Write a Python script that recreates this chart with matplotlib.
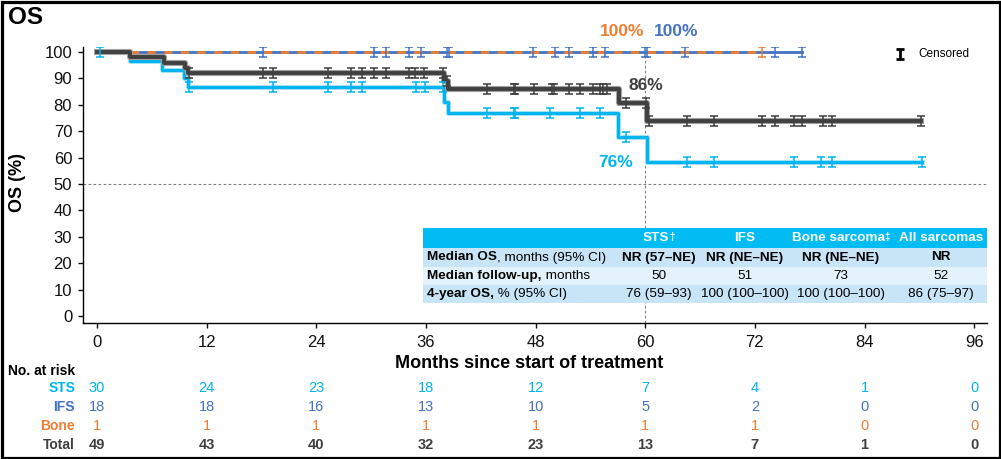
import matplotlib
matplotlib.use('Agg')
import matplotlib.pyplot as plt
import numpy as np
from matplotlib.path import Path
from matplotlib.patches import Rectangle
import matplotlib.patheffects as pe
import matplotlib.transforms as mtransforms
from matplotlib import font_manager

# ---------------- data ----------------
sts_times = [0, 3.6, 7.1, 9.5, 10.0, 38.0, 38.4, 57.0, 60.2]
sts_surv = [100, 96.7, 93.3, 90.0, 86.7, 81.2, 76.8, 67.9, 58.5]
sts_end = 90.3
total_times = [0, 3.6, 7.3, 9.6, 10.0, 38.0, 38.4, 57.1, 60.2]
total_surv = [100, 98, 96, 94, 92, 89, 86, 80.6, 73.7]
total_end = 90.2
ifs_times = [0]
ifs_surv = [100]
ifs_end = 77.2
bone_times = [0]
bone_surv = [100]
bone_end = 72.8

sts_cens = [0.3, 10.1, 19.3, 25.3, 27.8, 29.0, 34.9, 35.9, 37.9, 42.7, 45.6, 45.8,
            49.6, 52.9, 55.1, 57.9, 64.6, 67.5, 76.3, 79.2, 80.4, 90.3]
total_cens = [10.1, 18.2, 19.3, 25.3, 27.8, 29.0, 30.3, 31.6, 34.1, 34.8, 35.8, 37.9,
              38.3, 42.7, 45.6, 45.8, 47.8, 49.8, 50.0, 51.7, 52.9, 54.3, 55.1, 55.4,
              55.8, 57.9, 60.1, 60.4, 64.6, 67.5, 72.8, 74.2, 76.3, 77.2, 79.4, 80.4, 90.2]
ifs_cens = [18.2, 30.3, 31.6, 34.2, 35.5, 38.3, 38.5, 47.7, 50.1, 51.7, 54.3, 55.6,
            60.0, 60.2, 64.4, 74.2, 77.2]
bone_cens = [72.8]

month_ticks = [0, 12, 24, 36, 48, 60, 72, 84, 96]
y_ticks = [0, 10, 20, 30, 40, 50, 60, 70, 80, 90, 100]

risk_labels = ['STS', 'IFS', 'Bone', 'Total']
risk_sts = [30, 24, 23, 18, 12, 7, 4, 1, 0]
risk_ifs = [18, 18, 16, 13, 10, 5, 2, 0, 0]
risk_bone = [1, 1, 1, 1, 1, 1, 1, 0, 0]
risk_total = [49, 43, 40, 32, 23, 13, 7, 1, 0]

table_header = ['STS', 'IFS', 'Bone sarcoma', 'All sarcomas']
table_header_marks = ['\u2020', '', '\u2021', '']
table_row_bold = ['Median OS', 'Median follow-up,', '4-year OS,']
table_row_rest = [', months (95% CI)', ' months', ' % (95% CI)']
table_values = [
    ['NR (57\u2013NE)', 'NR (NE\u2013NE)', 'NR (NE\u2013NE)', 'NR'],
    ['50', '51', '73', '52'],
    ['76 (59\u201393)', '100 (100\u2013100)', '100 (100\u2013100)', '86 (75\u201397)'],
]

pct_labels = ['100%', '100%', '86%', '76%']

# ---------------- style ----------------
C_STS = '#00B4EF'
C_IFS = '#4472C4'
C_BONE = '#ED7D31'
C_TOT = '#404040'

plt.rcParams['font.family'] = ['Liberation Sans', 'DejaVu Sans']
try:
    font_manager.findfont('Liberation Sans Narrow', fallback_to_default=False)
    NARROW = ['Liberation Sans Narrow', 'Liberation Sans']
except Exception:
    NARROW = ['Liberation Sans', 'DejaVu Sans']
TFS = 9.7

W, H = 1001, 459
fig = plt.figure(figsize=(W / 100, H / 100), dpi=100)
fig.patch.set_facecolor('white')

ax = fig.add_axes([83 / W, 1 - 323 / H, (987 - 83) / W, (323 - 47) / H])
ax.set_xlim(-1.53, 97.4)
ax.set_ylim(-2.65, 101.9)
for s in ['top', 'right']:
    ax.spines[s].set_visible(False)
for s in ['left', 'bottom']:
    ax.spines[s].set_linewidth(1.0)
ax.set_xticks(month_ticks)
ax.set_yticks(y_ticks)
ax.tick_params(axis='both', length=3.8, width=1.0, labelsize=12, colors='#111111')
ax.tick_params(axis='x', pad=5)
ax.tick_params(axis='y', pad=4)

# reference lines
ax.axhline(50, color='#808080', lw=0.8, ls=(0, (2.5, 2)), zorder=1)
ax.vlines(60, ax.get_ylim()[0], 100, color='#808080', lw=0.8, ls=(0, (2.5, 2)), zorder=1)

def step_xy(times, surv, end):
    return list(times) + [end], list(surv) + [surv[-1]]

def surv_at(t, times, surv):
    idx = np.searchsorted(times, t, side='right') - 1
    return surv[idx]

# curves
x, y = step_xy(ifs_times, ifs_surv, ifs_end)
ax.step(x, y, where='post', color=C_IFS, lw=2.0, zorder=3)
x, y = step_xy(bone_times, bone_surv, bone_end)
ax.step(x, y, where='post', color=C_BONE, lw=2.0, ls=(0, (3, 3)), zorder=4)

x, y = step_xy(sts_times, sts_surv, sts_end)
ax.step(x, y, where='post', color=C_STS, lw=2.2, zorder=5,
        path_effects=[pe.Stroke(linewidth=3.6, foreground='#a9e3f8'), pe.Normal()])
x, y = step_xy(total_times, total_surv, total_end)
ax.step(x, y, where='post', color=C_TOT, lw=2.8, zorder=6,
        path_effects=[pe.Stroke(linewidth=4.4, foreground='#a0a0a0'), pe.Normal()])

# censor marker (I-beam)
verts = [(-0.39, -0.5), (0.39, -0.5), (0, -0.5), (0, 0.5), (-0.39, 0.5), (0.39, 0.5)]
codes = [Path.MOVETO, Path.LINETO, Path.MOVETO, Path.LINETO, Path.MOVETO, Path.LINETO]
ibeam = Path(verts, codes)

def censor(times_c, times, surv, color, z):
    ys = [surv_at(t, times, surv) for t in times_c]
    ax.plot(times_c, ys, ls='none', marker=ibeam, markersize=7.8, mew=1.1,
            mec=color, mfc='none', zorder=z)

censor(ifs_cens, ifs_times, ifs_surv, C_IFS, 7)
censor(bone_cens, bone_times, bone_surv, C_BONE, 7)
censor(sts_cens, sts_times, sts_surv, C_STS, 8)
censor(total_cens, total_times, total_surv, C_TOT, 9)

# percentage labels
ax.text(59.9, 107.6, pct_labels[0], color=C_BONE, fontsize=12.5, fontweight='bold',
        ha='right', va='center', clip_on=False)
ax.text(60.9, 107.6, pct_labels[1], color=C_IFS, fontsize=12.5, fontweight='bold',
        ha='left', va='center', clip_on=False)
ax.text(58.2, 87.5, pct_labels[2], color=C_TOT, fontsize=12.5, fontweight='bold',
        ha='left', va='center')
ax.text(58.7, 58.3, pct_labels[3], color=C_STS, fontsize=12.5, fontweight='bold',
        ha='right', va='center')

# ---------------- overlay in pixel coordinates ----------------
ov = fig.add_axes([0, 0, 1, 1], zorder=5)
ov.set_xlim(0, W)
ov.set_ylim(H, 0)
ov.axis('off')
ov.patch.set_visible(False)

# frame border
ov.add_patch(Rectangle((1.5, 1.5), W - 3, H - 3, fill=False, ec='black', lw=2.3))

ov.text(8, 18, 'OS', fontsize=17.5, fontweight='bold', ha='left', va='center')
ov.text(18, 182, 'OS (%)', fontsize=13, fontweight='bold', rotation=90,
        ha='center', va='center')
ov.text(529, 363, 'Months since start of treatment', fontsize=13, fontweight='bold',
        ha='center', va='center')

# legend
ov.plot([900], [54], ls='none', marker=ibeam, markersize=6.8, mew=2.0, mec='black')
ov.text(918, 54, 'Censored', fontsize=8.5, ha='left', va='center')

# summary table
t_left, t_right = 423, 987
row_edges = [228, 248, 267, 285, 303]
row_colors = ['#00BCF2', '#C8E5F8', '#E4F2FC', '#C8E5F8']
col_centers = [659, 745, 841, 941]
for i, c in enumerate(row_colors):
    ov.add_patch(Rectangle((t_left, row_edges[i]), t_right - t_left,
                           row_edges[i + 1] - row_edges[i], fc=c, ec='none', zorder=1))
hy = (row_edges[0] + row_edges[1]) / 2
for cx, h, mk in zip(col_centers, table_header, table_header_marks):
    shift = 3 if mk else 0
    th = ov.text(cx - shift, hy, h, family=NARROW, fontsize=TFS, fontweight='bold',
                 color='white', ha='center', va='center', zorder=2)
    if mk:
        ov.annotate(mk, xy=(1, 1), xycoords=th, family=NARROW, fontsize=7,
                    fontweight='bold', color='white', ha='left', va='top', zorder=2)
for r in range(3):
    yc = (row_edges[r + 1] + row_edges[r + 2]) / 2
    tb = ov.text(427, yc, table_row_bold[r], family=NARROW, fontsize=TFS,
                 fontweight='bold', ha='left', va='center', zorder=2)
    ov.annotate(table_row_rest[r], xy=(1, 0.5), xycoords=tb, family=NARROW,
                fontsize=TFS, ha='left', va='center', zorder=2)
    for cx, v in zip(col_centers, table_values[r]):
        ov.text(cx, yc, v, family=NARROW, fontsize=TFS,
                fontweight='bold' if r == 0 else 'normal', ha='center', va='center',
                zorder=2)

# risk table
blend = mtransforms.blended_transform_factory(ax.transData, ov.transData)
ov.text(8, 371, 'No. at risk', fontsize=10, fontweight='bold', ha='left', va='center')
risk_rows = [risk_sts, risk_ifs, risk_bone, risk_total]
risk_colors = [C_STS, C_IFS, C_BONE, C_TOT]
risk_y = [388, 407, 426, 445]
for lab, vals, col, yy in zip(risk_labels, risk_rows, risk_colors, risk_y):
    ov.text(75, yy, lab, fontsize=10, fontweight='bold', color=col, ha='right', va='center')
    for m, v in zip(month_ticks, vals):
        ov.text(m, yy, str(v), transform=blend, fontsize=10.5, color=col,
                fontweight='bold' if lab == 'Total' else 'normal',
                ha='center', va='center')

fig.savefig('out.png', dpi=100)
